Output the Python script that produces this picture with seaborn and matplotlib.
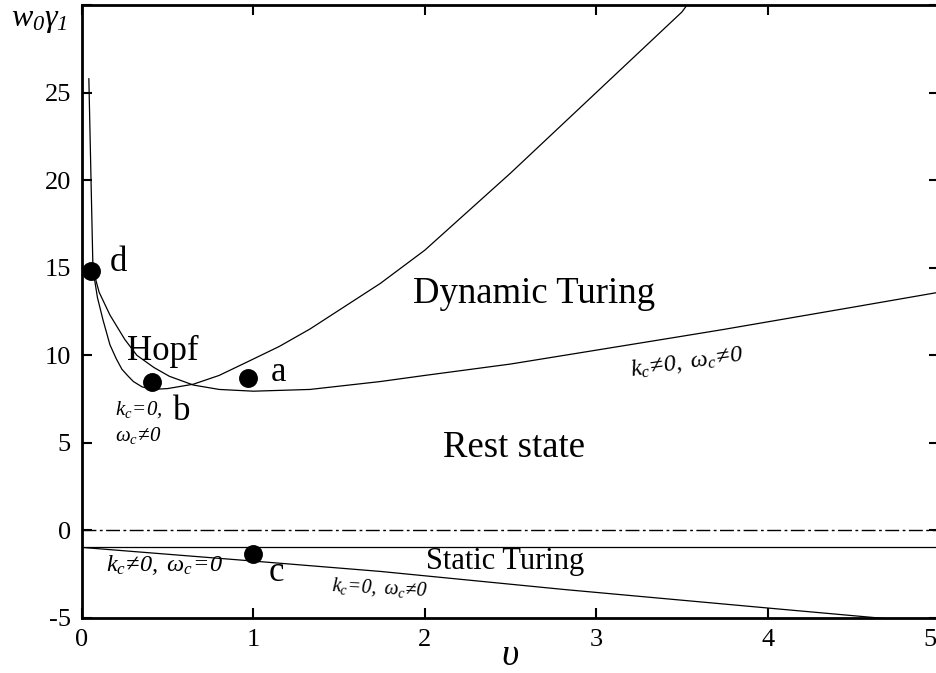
import matplotlib
matplotlib.use("Agg")
import matplotlib.pyplot as plt
import matplotlib.transforms as mtransforms
import seaborn as sns
import pandas as pd

# Hopf boundary (k_c = 0, omega_c != 0): steep branch from the top, minimum near b, rising to the top edge
hopf_v = [0.040, 0.052, 0.064, 0.09, 0.123, 0.163, 0.20, 0.233, 0.27, 0.30, 0.35, 0.41,
          0.50, 0.65, 0.80, 0.96, 1.15, 1.33, 1.74, 2.0, 2.5, 3.0, 3.5, 3.56]
hopf_w = [25.8, 20.3, 14.9, 13.3, 12.0, 10.6, 9.8, 9.2, 8.8, 8.5, 8.2, 8.05,
          8.1, 8.35, 8.85, 9.6, 10.5, 11.5, 14.1, 16.0, 20.4, 25.0, 29.6, 30.4]

# Wave (dynamic Turing) boundary (k_c != 0, omega_c != 0)
wave_v = [0.064, 0.10, 0.163, 0.25, 0.32, 0.42, 0.51, 0.65, 0.80, 1.0, 1.33, 1.74,
          2.0, 2.5, 2.91, 3.49, 3.74, 4.5, 5.0]
wave_w = [14.9, 13.6, 12.3, 10.9, 10.0, 9.3, 8.8, 8.3, 8.05, 7.95, 8.05, 8.5,
          8.85, 9.5, 10.15, 11.07, 11.47, 12.75, 13.6]

# Static Turing boundary (k_c != 0, omega_c = 0) and lower Hopf branch
static_v = [0.0, 5.0]
static_w = [-0.97, -0.97]
lower_v = [0.0, 1.0, 1.74, 2.81, 4.08, 4.65, 5.0]
lower_w = [-0.97, -1.75, -2.34, -3.37, -4.5, -5.0, -5.3]

# Reference level w0*gamma1 = 0
zero_v = [0.0, 5.0]
zero_w = [0.0, 0.0]

# Marked parameter points
point_names = ["a", "b", "c", "d"]
point_v = [0.97, 0.41, 1.0, 0.055]
point_w = [8.7, 8.5, -1.35, 14.8]

x_ticks = [0, 1, 2, 3, 4, 5]
y_ticks = [-5, 0, 5, 10, 15, 20, 25, 30]
y_tick_labels = ["-5", "0", "5", "10", "15", "20", "25", ""]

sns.set_style("ticks")
plt.rcParams["font.family"] = ["Liberation Serif", "DejaVu Serif"]
plt.rcParams["mathtext.fontset"] = "custom"
plt.rcParams["mathtext.it"] = "Liberation Serif:italic"
plt.rcParams["mathtext.rm"] = "Liberation Serif:italic"
plt.rcParams["mathtext.sf"] = "Liberation Serif:italic"
for key in ["text.color", "axes.labelcolor", "xtick.color", "ytick.color", "axes.edgecolor"]:
    plt.rcParams[key] = "black"

fig = plt.figure(figsize=(9.37, 6.73), dpi=100)
ax = fig.add_axes([82 / 937, 55 / 673, 857 / 937, 613 / 673])

line_kw = dict(color="black", linewidth=0.9, sort=False, estimator=None, ax=ax, legend=False)
sns.lineplot(x=hopf_v, y=hopf_w, **line_kw)
sns.lineplot(x=wave_v, y=wave_w, **line_kw)
sns.lineplot(x=static_v, y=static_w, **line_kw)
sns.lineplot(x=lower_v, y=lower_w, **line_kw)
sns.lineplot(x=zero_v, y=zero_w, color="black", linewidth=1.0, sort=False,
             estimator=None, ax=ax, legend=False, linestyle=(0, (10, 2.5, 2, 2.5)))

pts = pd.DataFrame({"v": point_v, "w": point_w, "name": point_names})
sns.scatterplot(data=pts, x="v", y="w", color="black", s=185, edgecolor="black",
                linewidth=0, ax=ax, legend=False, zorder=5)

ax.set_xlim(0, 5)
ax.set_ylim(-5, 30)
ax.set_xticks(x_ticks)
ax.set_xticklabels([str(t) for t in x_ticks])
ax.set_yticks(y_ticks)
ax.set_yticklabels(y_tick_labels)
ax.tick_params(direction="in", length=7, width=1.5, labelsize=19,
               top=True, right=True, pad=8, colors="black")
for s in ax.spines.values():
    s.set_linewidth(2.0)
    s.set_color("black")
    s.set_visible(True)

ax.set_xlabel(r"$\upsilon$", fontsize=27, va="center")
ax.xaxis.set_label_coords(0.5, -0.062)
ax.set_ylabel(r"$w_0\gamma_1$", fontsize=23, rotation=0, ha="center", va="center")
ax.yaxis.set_label_coords(-0.05, 0.975)

# point letters
letter_pos = {"a": (1.10, 9.0), "b": (0.53, 6.8), "c": (1.09, -2.4), "d": (0.16, 15.3)}
for name, (lx, ly) in letter_pos.items():
    ax.text(lx, ly, name, fontsize=25, ha="left", va="center")

# region names
ax.text(0.47, 10.2, "Hopf", fontsize=25, ha="center", va="center")
ax.text(2.64, 13.5, "Dynamic Turing", fontsize=26.5, ha="center", va="center")
ax.text(2.52, 4.7, "Rest state", fontsize=26.5, ha="center", va="center")
ax.text(2.47, -1.8, "Static Turing", fontsize=22, ha="center", va="center")

# boundary annotations
ax.text(0.19, 6.9, r"$k_c\!=\!0,$", fontsize=15, ha="left", va="center")
ax.text(0.19, 5.4, r"$\omega_c\!\neq\!0$", fontsize=15, ha="left", va="center")
ax.text(3.53, 9.6, r"$k_c\!\neq\!0,\ \omega_c\!\neq\!0$", fontsize=17.5,
        ha="center", va="center", rotation=8)
ax.text(0.48, -1.95, r"$k_c\!\neq\!0,\ \omega_c\!=\!0$", fontsize=17.5,
        ha="center", va="center")
ax.text(1.74, -3.3, r"$k_c\!=\!0,\ \omega_c\!\neq\!0$", fontsize=14.3,
        ha="center", va="center", rotation=-3)

# keep the last x tick label inside the figure edge
fig.canvas.draw()
last = ax.xaxis.get_major_ticks()[-1].label1
last.set_transform(last.get_transform()
                   + mtransforms.ScaledTranslation(-9 / 100, 0, fig.dpi_scale_trans))

fig.savefig("out.png", dpi=100)
